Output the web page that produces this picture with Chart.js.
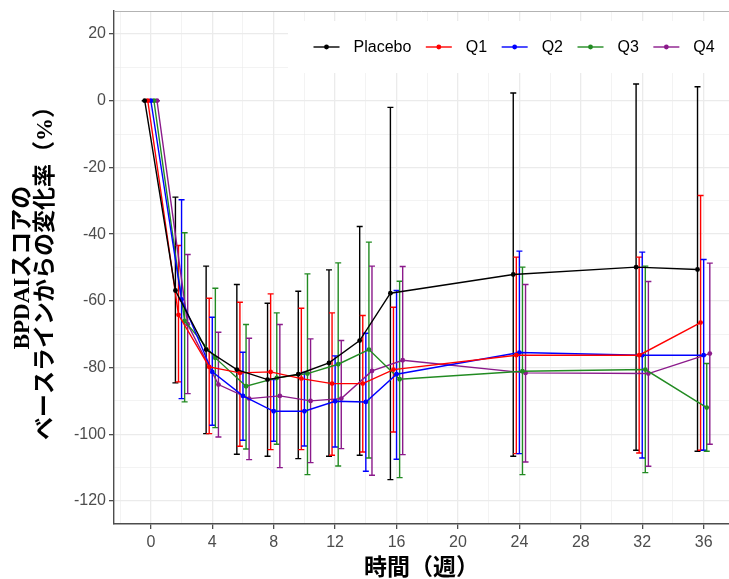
<!DOCTYPE html>
<html>
<head>
<meta charset="utf-8">
<script src="https://cdn.jsdelivr.net/npm/chart.js@4.4.1/dist/chart.umd.min.js"></script>
<style>
  html, body { margin: 0; padding: 0; background: #fff; }
  #wrap { width: 729px; height: 579px; }
</style>
</head>
<body>
<div id="wrap"><canvas id="bpdaiChart" width="729" height="579"></canvas></div>
<script>
    // weeks of the visits
    const weeks = [0, 2, 4, 6, 8, 10, 12, 14, 16, 24, 32, 36]

    const groupNames = ["Placebo", "Q1", "Q2", "Q3", "Q4"]
    const groupColors = ["#000000", "#ff0000", "#0000ff", "#228b22", "#8b1a8b"]

    // mean % change from baseline
    const placeboMean = [0, -56.9, -74.6, -80.6, -83.6, -82.0, -78.6, -71.9, -57.7, -52.1, -49.9, -50.6]
    const q1Mean = [0, -64.2, -79.8, -81.6, -81.3, -83.3, -84.8, -84.8, -80.6, -76.3, -76.3, -66.5]
    const q2Mean = [0, -59.6, -81.3, -88.5, -93.1, -93.1, -90.1, -90.3, -82.0, -75.5, -76.3, -76.3]
    const q3Mean = [0, -66.0, -77.1, -85.6, -83.1, -81.8, -79.0, -74.6, -83.5, -81.1, -80.6, -92.0]
    const q4Mean = [0, -67.0, -85.1, -89.3, -88.5, -90.0, -89.3, -81.0, -77.8, -81.6, -81.8, -75.8]

    // upper ends of the error bars
    const placeboHigh = [0, -28.9, -49.6, -55.1, -60.7, -57.1, -50.7, -37.7, -2.0, 2.3, 5.0, 4.2]
    const q1High = [0, -43.4, -59.2, -60.4, -57.9, -62.2, -63.6, -64.4, -61.9, -46.9, -46.9, -28.4]
    const q2High = [0, -29.7, -64.9, -75.4, -83.6, -81.5, -76.5, -69.7, -56.9, -45.1, -45.4, -47.6]
    const q3High = [0, -39.6, -56.2, -67.1, -63.6, -51.9, -48.6, -42.4, -54.1, -49.9, -49.6, -78.8]
    const q4High = [0, -46.1, -69.4, -71.2, -67.1, -71.4, -71.9, -49.6, -49.7, -55.1, -54.2, -48.7]

    // lower ends of the error bars
    const placeboLow = [0, -84.6, -99.8, -106.0, -106.6, -107.3, -106.6, -106.3, -113.6, -106.6, -104.8, -105.1]
    const q1Low = [0, -84.3, -99.8, -103.6, -104.6, -104.6, -106.3, -105.3, -99.3, -105.8, -105.6, -104.8]
    const q2Low = [0, -89.3, -97.3, -101.8, -102.1, -103.5, -103.8, -111.1, -107.5, -105.8, -107.1, -104.8]
    const q3Low = [0, -90.3, -98.0, -104.4, -103.0, -112.1, -109.5, -107.1, -113.0, -112.1, -111.5, -105.1]
    const q4Low = [0, -87.8, -100.8, -107.6, -110.0, -108.5, -104.3, -112.3, -106.1, -108.3, -109.6, -103.0]

    const means = [placeboMean, q1Mean, q2Mean, q3Mean, q4Mean]
    const highs = [placeboHigh, q1High, q2High, q3High, q4High]
    const lows = [placeboLow, q1Low, q2Low, q3Low, q4Low]

    // position_dodge like shift, in weeks
    const dodgeStep = 0.2

    const tickFont = { family: "'Liberation Sans', Arial, sans-serif", size: 16 }
    const titleFont = { family: "'Liberation Serif', 'Noto Sans CJK JP', serif", size: 23, weight: "bold", lineHeight: 1.0 }

    const datasets = groupNames.map((name, g) => {
        const shift = (g - 2) * dodgeStep
        return {
            label: name,
            data: weeks.map((w, i) => ({ x: w + shift, y: means[g][i], lo: lows[g][i], hi: highs[g][i] })),
            borderColor: groupColors[g],
            backgroundColor: groupColors[g],
            borderWidth: 1.4,
            pointRadius: 2.4,
            pointHoverRadius: 2.4,
            pointBorderWidth: 0,
            tension: 0
        }
    })

    const errorBars = {
        id: "errorBars",
        beforeDatasetsDraw(chart) {
            const { ctx, scales: { x, y }, chartArea } = chart
            ctx.save()
            ctx.beginPath()
            ctx.rect(chartArea.left, chartArea.top, chartArea.right - chartArea.left, chartArea.bottom - chartArea.top)
            ctx.clip()
            ctx.lineWidth = 1.4
            chart.data.datasets.forEach((ds) => {
                ctx.strokeStyle = ds.borderColor
                ds.data.forEach((p) => {
                    const px = x.getPixelForValue(p.x)
                    const top = y.getPixelForValue(p.hi)
                    const bot = y.getPixelForValue(p.lo)
                    ctx.beginPath()
                    ctx.moveTo(px, top)
                    ctx.lineTo(px, bot)
                    ctx.moveTo(px - 3, top)
                    ctx.lineTo(px + 3, top)
                    ctx.moveTo(px - 3, bot)
                    ctx.lineTo(px + 3, bot)
                    ctx.stroke()
                })
            })
            ctx.restore()
        }
    }

    // legend inside the panel, top right, on a white box
    const insideLegend = {
        id: "insideLegend",
        beforeDatasetsDraw(chart) {
            const { ctx, chartArea } = chart
            ctx.save()
            // top border of the panel
            ctx.strokeStyle = "#b3b3b3"
            ctx.lineWidth = 1
            ctx.beginPath()
            ctx.moveTo(chartArea.left, chartArea.top + 0.5)
            ctx.lineTo(chartArea.right, chartArea.top + 0.5)
            ctx.stroke()

            ctx.fillStyle = "#ffffff"
            ctx.fillRect(288, 21, chartArea.right - 288, 52)

            ctx.font = "16px 'Liberation Sans', Arial, sans-serif"
            ctx.textBaseline = "middle"
            ctx.textAlign = "left"
            let cx = 313.5
            const cy = 47
            groupNames.forEach((name, g) => {
                ctx.strokeStyle = groupColors[g]
                ctx.fillStyle = groupColors[g]
                ctx.lineWidth = 1.4
                ctx.beginPath()
                ctx.moveTo(cx, cy)
                ctx.lineTo(cx + 26, cy)
                ctx.stroke()
                ctx.beginPath()
                ctx.arc(cx + 13, cy, 2.4, 0, Math.PI * 2)
                ctx.fill()
                ctx.fillStyle = "#000"
                ctx.fillText(name, cx + 40, cy + 1)
                cx += 40 + ctx.measureText(name).width + 14.5
            })
            ctx.restore()
        }
    }

    const gridColor = "#ebebeb"

    const noPadding = (s) => {
        s.paddingLeft = 0
        s.paddingRight = 0
        s.paddingTop = 0
        s.paddingBottom = 0
    }

    new Chart(bpdaiChart, {
        type: "line",
        data: { datasets },
        options: {
            responsive: false,
            animation: false,
            events: [],
            layout: { autoPadding: false, padding: { top: 11, right: 0, bottom: 0, left: 0 } },
            plugins: {
                legend: { display: false },
                tooltip: { enabled: false }
            },
            scales: {
                x: {
                    type: "linear",
                    min: -2.4,
                    max: 37.65,
                    afterFit: (s) => {
                        s.height = 55
                        noPadding(s)
                    },
                    border: { color: "#4d4d4d", width: 1.4 },
                    grid: {
                        color: gridColor,
                        lineWidth: (c) => c.tick && c.tick.value % 4 === 0 ? 1.3 : 0.6,
                        tickColor: (c) => c.tick && c.tick.value % 4 === 0 && c.tick.value >= 0 ? "#4d4d4d" : "rgba(0,0,0,0)",
                        tickLength: 5,
                        tickWidth: 1.3
                    },
                    ticks: {
                        stepSize: 2,
                        includeBounds: false,
                        autoSkip: false,
                        maxRotation: 0,
                        padding: 4,
                        color: "#4d4d4d",
                        font: tickFont,
                        callback: (v) => v % 4 === 0 && v >= 0 ? String(v) : ""
                    },
                    title: {
                        display: true,
                        text: "時間（週）",
                        color: "#000",
                        font: titleFont,
                        padding: { top: 0, bottom: -2 }
                    }
                },
                y: {
                    type: "linear",
                    min: -126.9,
                    max: 26.9,
                    afterFit: (s) => {
                        s.width = 114
                        noPadding(s)
                    },
                    border: { color: "#4d4d4d", width: 1.4 },
                    grid: {
                        color: gridColor,
                        lineWidth: (c) => c.tick && c.tick.value % 20 === 0 ? 1.3 : 0.6,
                        tickColor: (c) => c.tick && c.tick.value % 20 === 0 ? "#4d4d4d" : "rgba(0,0,0,0)",
                        tickLength: 5,
                        tickWidth: 1.3
                    },
                    ticks: {
                        stepSize: 10,
                        includeBounds: false,
                        autoSkip: false,
                        padding: 3,
                        color: "#4d4d4d",
                        font: tickFont,
                        callback: (v) => v % 20 === 0 ? String(v) : ""
                    },
                    title: {
                        display: true,
                        text: ["BPDAIスコアの", "ベースラインからの変化率（%）"],
                        color: "#000",
                        font: titleFont,
                        padding: { top: 11.5, bottom: 0 }
                    }
                }
            }
        },
        plugins: [errorBars, insideLegend]
    })
</script>
</body>
</html>
